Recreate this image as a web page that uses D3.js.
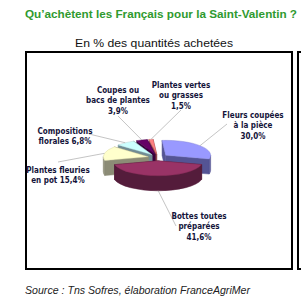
<!DOCTYPE html>
<html>
<head>
<meta charset="utf-8">
<script src="https://cdn.jsdelivr.net/npm/d3@7"></script>
<style>
  body { margin: 0; background: #fff; }
  svg { display: block; }
</style>
</head>
<body>
<script>
// categories and values (% of quantities bought)
var categories = ["Fleurs coupées à la pièce", "Bottes toutes préparées", "Plantes fleuries en pot",
                  "Compositions florales", "Coupes ou bacs de plantes", "Plantes vertes ou grasses"];
var values = [30.0, 41.6, 15.4, 6.8, 3.9, 1.5];
var labelLines = [
  ["Fleurs coupées", "à la pièce", "30,0%"],
  ["Bottes toutes", "préparées", "41,6%"],
  ["Plantes fleuries", "en pot 15,4%"],
  ["Compositions", "florales  6,8%"],
  ["Coupes ou", "bacs de plantes", "3,9%"],
  ["Plantes vertes", "ou grasses", "1,5%"]
];
var colors = ["#9999ff", "#993366", "#ffffcc", "#ccffff", "#660066", "#ff8080"];

// layout
var W = 301, H = 302;
var cx = 158, cy = 157.5, rx = 45, ry = 15, depth = 15, explode = 10;
var start = -4.6 * Math.PI / 180;
// label anchor (centre of first line) and leader start
var labelPos = [
  {x: 253, y: 118, lx: 227, ly: 124},
  {x: 199, y: 219, lx: 176, ly: 226},
  {x: 58,  y: 173, lx: 58,  ly: 162},
  {x: 65,  y: 134, lx: 89,  ly: 134},
  {x: 118, y: 93,  lx: 118, ly: 116},
  {x: 181, y: 88,  lx: 181, ly: 110}
];

var svg = d3.select("body").append("svg").attr("width", W).attr("height", H);

// title
svg.append("text")
  .attr("x", 25).attr("y", 18)
  .attr("textLength", 272).attr("lengthAdjust", "spacingAndGlyphs")
  .style("font-family", "Liberation Sans, Arial, sans-serif")
  .style("font-weight", "bold").style("font-size", "11.5px")
  .style("fill", "#2f9a2f")
  .text("Qu’achètent les Français pour la Saint-Valentin ?");

svg.append("text")
  .attr("x", 75).attr("y", 47)
  .attr("textLength", 158).attr("lengthAdjust", "spacingAndGlyphs")
  .style("font-family", "Liberation Sans, Arial, sans-serif")
  .style("font-size", "11.5px")
  .style("fill", "#111")
  .text("En % des quantités achetées");

// frames
svg.append("rect").attr("x", 26).attr("y", 52).attr("width", 266).attr("height", 217)
  .attr("fill", "none").attr("stroke", "#000").attr("stroke-width", 2);
svg.append("rect").attr("x", 298).attr("y", 52).attr("width", 20).attr("height", 217)
  .attr("fill", "none").attr("stroke", "#000").attr("stroke-width", 2);

svg.append("text")
  .attr("x", 25).attr("y", 294)
  .attr("textLength", 225).attr("lengthAdjust", "spacingAndGlyphs")
  .style("font-family", "Liberation Sans, Arial, sans-serif")
  .style("font-style", "italic").style("font-size", "11px")
  .style("fill", "#222")
  .text("Source : Tns Sofres, élaboration FranceAgriMer");

// pie angles
var pie = d3.pie().sort(null).startAngle(start).endAngle(start + 2 * Math.PI);
var arcs = pie(values).map(function(d, i) {
  var mid = (d.startAngle + d.endAngle) / 2;
  d.i = i;
  d.mid = mid;
  d.ox = cx + explode * Math.sin(mid);
  d.oy = cy - explode * (ry / rx) * Math.cos(mid);
  return d;
});

function pt(d, a, dz) {
  return [d.ox + rx * Math.sin(a), d.oy - ry * Math.cos(a) + (dz || 0)];
}

function topPath(d) {
  var p0 = pt(d, d.startAngle), p1 = pt(d, d.endAngle);
  var large = (d.endAngle - d.startAngle) > Math.PI ? 1 : 0;
  return "M" + d.ox + "," + d.oy + "L" + p0 + "A" + rx + "," + ry + " 0 " + large + " 1 " + p1 + "Z";
}

function facePath(d, a) {
  var p = pt(d, a);
  return "M" + d.ox + "," + d.oy + "L" + p + "L" + p[0] + "," + (p[1] + depth) +
         "L" + d.ox + "," + (d.oy + depth) + "Z";
}

function wallPath(d) {
  // visible front part: angles between PI/2 and 3PI/2
  var s = Math.max(d.startAngle, Math.PI / 2), e = Math.min(d.endAngle, 3 * Math.PI / 2);
  if (e <= s) return null;
  var p0 = pt(d, s), p1 = pt(d, e);
  var large = (e - s) > Math.PI ? 1 : 0;
  return "M" + p0 + "A" + rx + "," + ry + " 0 " + large + " 1 " + p1 +
         "L" + p1[0] + "," + (p1[1] + depth) +
         "A" + rx + "," + ry + " 0 " + large + " 0 " + p0[0] + "," + (p0[1] + depth) + "Z";
}

function side(c) {
  var r = d3.rgb(c);
  return d3.rgb(r.r * 0.55, r.g * 0.55, r.b * 0.58);
}

// back to front
var order = arcs.slice().sort(function(a, b) { return a.oy - b.oy; });
var g = svg.append("g");
order.forEach(function(d) {
  var sc = side(colors[d.i]);
  var sg = g.append("g");
  sg.append("path").attr("d", facePath(d, d.startAngle)).attr("fill", sc).attr("stroke", sc).attr("stroke-width", 0.5);
  sg.append("path").attr("d", facePath(d, d.endAngle)).attr("fill", sc).attr("stroke", sc).attr("stroke-width", 0.5);
  var w = wallPath(d);
  if (w) sg.append("path").attr("d", w).attr("fill", sc).attr("stroke", sc).attr("stroke-width", 0.5);
  sg.append("path").attr("d", topPath(d)).attr("fill", colors[d.i])
    .attr("stroke", d3.rgb(colors[d.i]).darker(0.6)).attr("stroke-width", 0.4);
});

// leader lines
arcs.forEach(function(d) {
  var front = Math.cos(d.mid) < -0.5;
  var p = pt(d, d.mid, front ? depth : 0);
  var lp = labelPos[d.i];
  svg.append("line")
    .attr("x1", lp.lx).attr("y1", lp.ly).attr("x2", p[0]).attr("y2", p[1])
    .attr("stroke", "#aaa").attr("stroke-width", 0.7);
});

// labels
arcs.forEach(function(d) {
  var lp = labelPos[d.i];
  var t = svg.append("text")
    .attr("text-anchor", "middle")
    .style("font-family", "Liberation Sans Narrow, DejaVu Sans Condensed, sans-serif")
    .style("font-weight", "bold").style("font-size", "8px")
    .style("fill", "#14143a");
  labelLines[d.i].forEach(function(line, k) {
    t.append("tspan").attr("x", lp.x).attr("y", lp.y + k * 10.3).text(line);
  });
});
</script>
</body>
</html>
